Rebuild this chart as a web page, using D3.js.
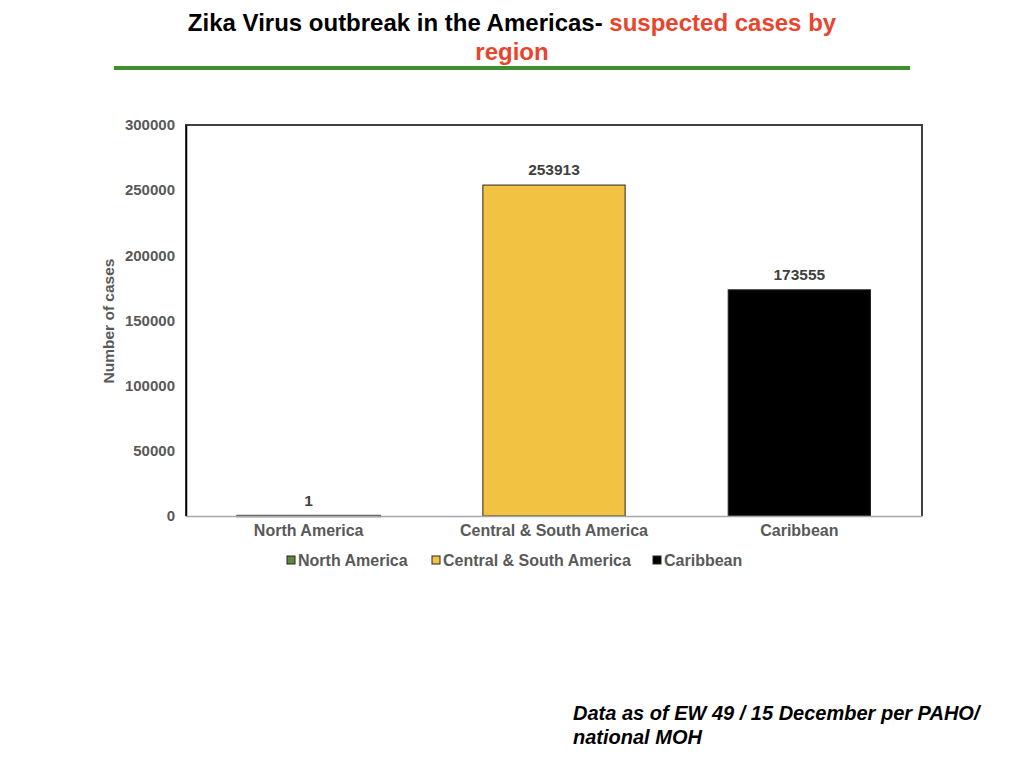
<!DOCTYPE html>
<html>
<head>
<meta charset="utf-8">
<script src="https://cdn.jsdelivr.net/npm/d3@7"></script>
<style>
  body { margin: 0; background: #fff; }
  svg { display: block; font-family: "Liberation Sans", Arial, sans-serif; }
</style>
</head>
<body>
<svg id="chart" width="1024" height="768"></svg>
<script>
// data
const regions = ['North America', 'Central & South America', 'Caribbean'];
const cases = [1, 253913, 173555];
const regionColors = ['#5b8a3c', '#f2c242', '#000000'];
const yTicks = [0, 50000, 100000, 150000, 200000, 250000, 300000];

const svg = d3.select('#chart');
const margin = { top: 125, right: 102, bottom: 252, left: 186 };
const width = 1024 - margin.left - margin.right;
const height = 768 - margin.top - margin.bottom;

// title
const title = svg.append('text')
  .attr('x', 512)
  .attr('y', 31)
  .attr('text-anchor', 'middle')
  .attr('font-weight', 700)
  .attr('font-size', 24);
title.append('tspan').attr('fill', '#000').text('Zika Virus outbreak in the Americas- ');
title.append('tspan').attr('fill', '#e8452c').text('suspected cases by');
svg.append('text')
  .attr('x', 512)
  .attr('y', 60)
  .attr('text-anchor', 'middle')
  .attr('font-weight', 700)
  .attr('font-size', 24)
  .attr('fill', '#e8452c')
  .text('region');

svg.append('line')
  .attr('x1', 114).attr('x2', 910)
  .attr('y1', 68).attr('y2', 68)
  .attr('stroke', '#3f8f2f')
  .attr('stroke-width', 4);

const g = svg.append('g').attr('transform', `translate(${margin.left},${margin.top})`);

const x = d3.scaleBand().domain(regions).range([0, width]).paddingInner(0.42).paddingOuter(0.21);
const y = d3.scaleLinear().domain([0, 300000]).range([height, 0]);

// frame (top / right)
g.append('path')
  .attr('d', `M0,${height}V0H${width}V${height}`)
  .attr('fill', 'none')
  .attr('stroke', '#404040')
  .attr('stroke-width', 2);

// bars
g.selectAll('rect.bar')
  .data(regions)
  .join('rect')
  .attr('class', 'bar')
  .attr('x', (d) => x(d))
  .attr('width', x.bandwidth())
  .attr('y', (d, i) => y(cases[i]))
  .attr('height', (d, i) => height - y(cases[i]))
  .attr('fill', (d, i) => regionColors[i])
  .attr('stroke', (d, i) => (i === 0 ? '#595959' : '#262626'))
  .attr('stroke-width', (d, i) => (i === 0 ? 2.5 : 1));

// value labels
g.selectAll('text.val')
  .data(regions)
  .join('text')
  .attr('class', 'val')
  .attr('x', (d) => x(d) + x.bandwidth() / 2)
  .attr('y', (d, i) => y(cases[i]) - 10)
  .attr('text-anchor', 'middle')
  .attr('font-size', 15.5)
  .attr('font-weight', 700)
  .attr('fill', '#404040')
  .text((d, i) => cases[i]);

// y axis
const yAxis = g.append('g')
  .call(d3.axisLeft(y).tickValues(yTicks).tickSize(0).tickPadding(11).tickFormat(d3.format('d')));
yAxis.select('.domain').attr('stroke', '#000').attr('stroke-width', 1.5);
yAxis.selectAll('text')
  .attr('font-family', '"Liberation Sans", Arial, sans-serif')
  .attr('font-size', 15)
  .attr('font-weight', 700)
  .attr('fill', '#595959');

// x axis
const xAxis = g.append('g')
  .attr('transform', `translate(0,${height})`)
  .call(d3.axisBottom(x).tickSize(0).tickPadding(9));
xAxis.select('.domain').attr('stroke', '#a6a6a6').attr('stroke-width', 1.5);
xAxis.selectAll('text')
  .attr('font-family', '"Liberation Sans", Arial, sans-serif')
  .attr('font-size', 16)
  .attr('font-weight', 700)
  .attr('fill', '#595959');

// y title
svg.append('text')
  .attr('transform', 'translate(114,321) rotate(-90)')
  .attr('text-anchor', 'middle')
  .attr('font-size', 15.5)
  .attr('font-weight', 700)
  .attr('fill', '#595959')
  .text('Number of cases');

// legend
const legendX = [287, 432, 653];
const legend = svg.append('g').attr('transform', 'translate(0,560)');
const items = legend.selectAll('g')
  .data(regions)
  .join('g')
  .attr('transform', (d, i) => `translate(${legendX[i]},0)`);
items.append('rect')
  .attr('x', 0).attr('y', -4)
  .attr('width', 8).attr('height', 8)
  .attr('fill', (d, i) => regionColors[i])
  .attr('stroke', '#262626')
  .attr('stroke-width', 1);
items.append('text')
  .attr('x', 11)
  .attr('y', 5.5)
  .attr('font-size', 16)
  .attr('font-weight', 700)
  .attr('fill', '#595959')
  .text((d) => d);

// footnote
const note = svg.append('text')
  .attr('font-size', 20)
  .attr('font-weight', 700)
  .attr('font-style', 'italic')
  .attr('fill', '#000');
note.append('tspan').attr('x', 573).attr('y', 720).text('Data as of EW 49 / 15 December per PAHO/');
note.append('tspan').attr('x', 573).attr('y', 744).text('national MOH');
</script>
</body>
</html>
